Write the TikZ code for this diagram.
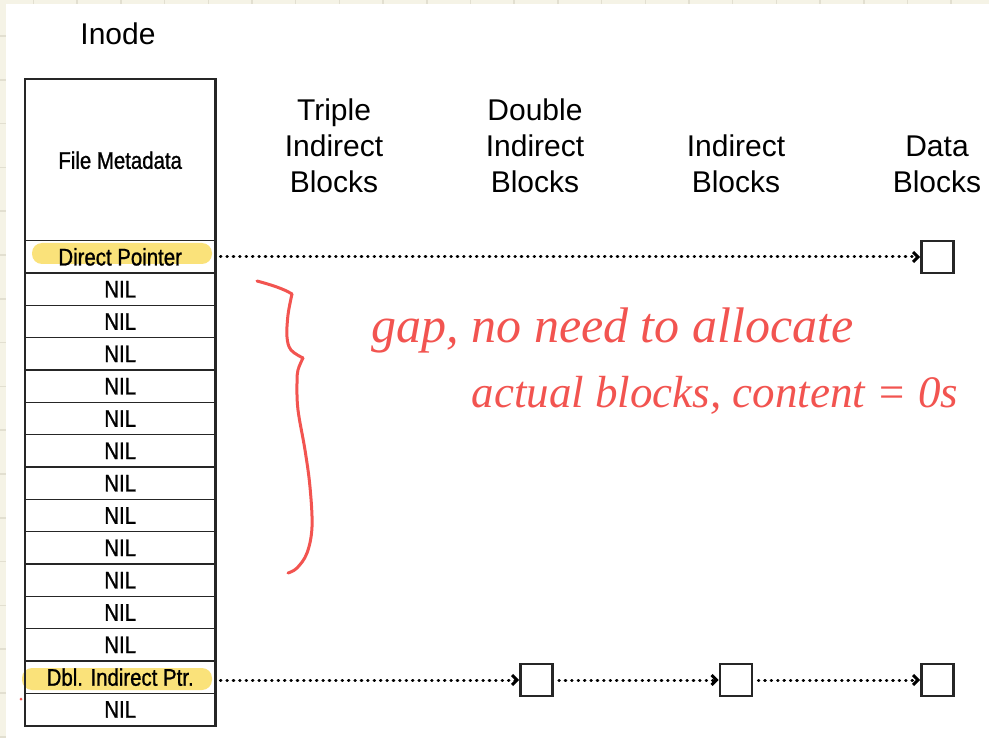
\documentclass[tikz,border=0pt]{standalone}
\usepackage{fontspec}
\setmainfont{Liberation Sans}
\newfontfamily\condfont[FakeStretch=0.85,FakeBold=1]{Liberation Sans}
\newfontfamily\handfont{Liberation Serif}
\usetikzlibrary{arrows.meta}
\definecolor{paper}{RGB}{245,243,230}
\definecolor{gridc}{RGB}{226,223,208}
\definecolor{hl}{RGB}{250,226,122}
\definecolor{pen}{RGB}{242,84,80}
\definecolor{ink}{RGB}{38,38,38}
\tikzset{
  cell/.style={draw=ink, line width=1.4pt, minimum width=189pt, minimum height=32.33pt,
    inner sep=0pt, anchor=north west, text=black, font=\condfont\fontsize{24}{26}\selectfont},
  header/.style={align=center, text=black, font=\fontsize{30}{36}\selectfont},
  blockbox/.style={draw=ink, line width=2.6pt, minimum size=32pt, inner sep=0pt},
  ptr/.style={black, line width=3pt, dash pattern=on 0.6pt off 5.8pt, line cap=round,
    -{Straight Barb[length=5pt,width=10pt,line width=3pt]}, shorten <=5pt},
  hilite/.style={fill=hl, rounded corners=10pt},
  pennote/.style={text=pen, anchor=west, font=\handfont\itshape\fontsize{#1}{#1}\selectfont},
  penline/.style={draw=pen, line width=3pt, line cap=round, line join=round}
}
\begin{document}
\begin{tikzpicture}[x=1pt,y=-1pt]
\useasboundingbox (0,0) rectangle (989,738);
% notebook paper background
\fill[paper] (0,0) rectangle (989,738);
\foreach \i in {0,...,22} \draw[gridc, line width=1.5pt] ({33.5+43.7*\i},0) -- ++(0,738);
\foreach \j in {0,...,16} \draw[gridc, line width=1.5pt] (0,{36+43.8*\j}) -- ++(989,0);
\fill[white] (6,4) rectangle (989,738);

% highlights
\fill[hilite] (32,243) rectangle (212,264);
\fill[hilite] (22,668) rectangle (212,690);

% headers
\node[header] (inode) at (118,34) {Inode};
\node[header] (triple) at (334,146) {Triple\\Indirect\\Blocks};
\node[header] (double) at (535,146) {Double\\Indirect\\Blocks};
\node[header] (indirect) at (736,164) {Indirect\\Blocks};
\node[header] (data) at (937,164) {Data\\Blocks};

% inode table
\node[cell, minimum height=161pt, font=\condfont\fontsize{24}{26}\selectfont] (meta) at (25,79) {File Metadata};
\node[cell] (r0) at (25,240) {Direct Pointer};
\foreach \k in {1,...,12} \node[cell] (r\k) at (25,{240+32.33*\k}) {NIL};
\node[cell] (r13) at (25,{240+32.33*13}) {Dbl. Indirect Ptr.};
\node[cell] (r14) at (25,{240+32.33*14}) {NIL};
\draw[ink, line width=2.2pt] (meta.north west) rectangle (r14.south east);

% blocks
\node[blockbox] (d1) at (937.5,257) {};
\node[blockbox] (b1) at (536.5,680) {};
\node[blockbox] (b2) at (736,680) {};
\node[blockbox] (b3) at (937.5,680) {};

% pointers
\draw[ptr] (r0.east |- d1.west) -- (d1.west);
\draw[ptr] (r13.east |- b1.west) -- (b1.west);
\draw[ptr] (b1.east) -- (b2.west);
\draw[ptr] (b2.east) -- (b3.west);

% handwritten annotation
\draw[penline] (257,281) .. controls (272,285) and (284,289) .. (292,294);
\draw[penline] plot[smooth, tension=0.6] coordinates {(292,294) (288,315) (287,337) (291,350) (303,358)};
\draw[penline] plot[smooth, tension=0.6] coordinates {(303,358) (298,370) (297,383) (298,410) (305,450) (310,487) (312,527) (307,553) (297,568) (288,573)};
\node[pennote=50] (note1) at (368,330) {gap, no need to allocate};
\node[pennote=45] (note2) at (468,395) {actual blocks, content = 0s};
\fill[pen] (21,699) circle (1.5pt);
\end{tikzpicture}
\end{document}
